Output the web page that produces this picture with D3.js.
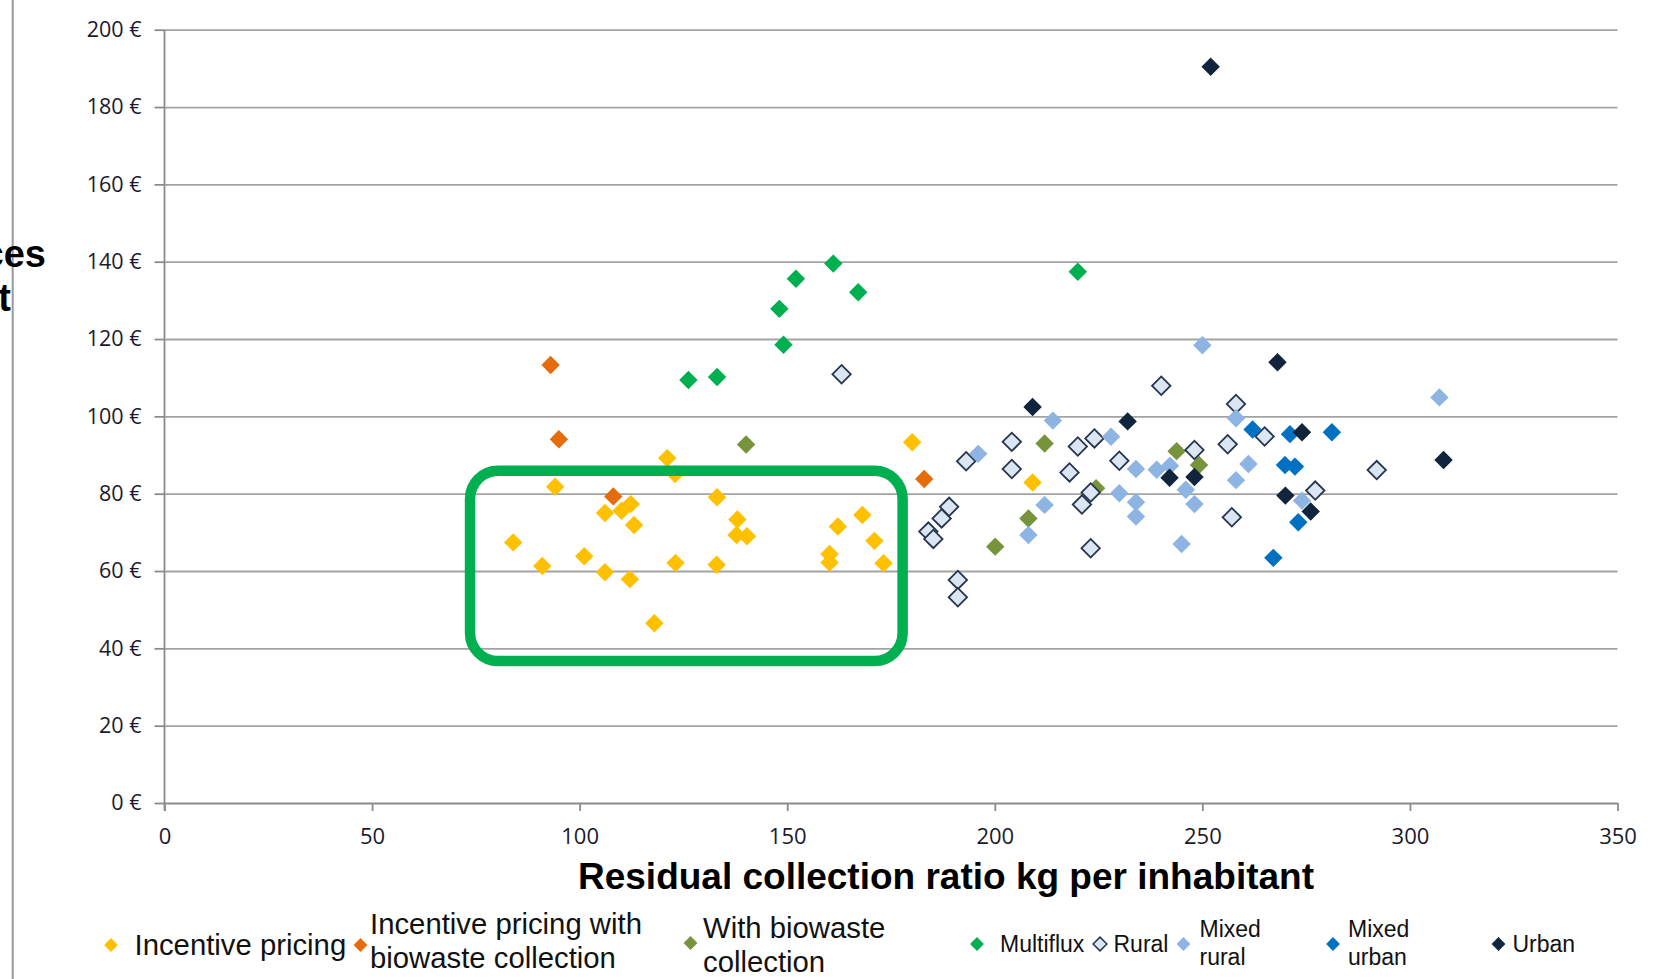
<!DOCTYPE html>
<html>
<head>
<meta charset="utf-8">
<script src="https://cdn.jsdelivr.net/npm/d3@7"></script>
<style>
  body { margin: 0; background: #fff; }
  svg { display: block; }
  .axis text { font-family: "Open Sans", sans-serif; fill: #1a1a2c; }
  .axis line, .axis path { stroke: #8c8c8c; stroke-width: 1.8; }
  .grid line { stroke: #a3a3a3; stroke-width: 1.8; }
  .grid path { display: none; }
  .axis-title { font-family: "Liberation Sans", Arial, sans-serif; font-weight: bold; fill: #000; }
  .legend text { font-family: "Liberation Sans", Arial, sans-serif; fill: #111; }
</style>
</head>
<body>
<svg id="chart"></svg>
<script>
// ---- data (kg per inhabitant, € per inhabitant) ----
const seriesNames = ['Incentive pricing', 'Incentive pricing with biowaste collection',
  'With biowaste collection', 'Multiflux', 'Rural', 'Mixed rural', 'Mixed urban', 'Urban'];

const incentivePricing = [[84, 67.4], [91, 61.3], [94.1, 81.8], [101.1, 63.8], [106.1, 75], [106.1, 59.7],
  [110.1, 75.6], [112.3, 77.3], [113.1, 71.9], [112.1, 57.9], [118, 46.5], [121.1, 89.2], [123, 85.1],
  [123.1, 62.1], [133.1, 79.1], [133, 61.6], [138, 73.3], [137.8, 69.3], [140.3, 69], [160.2, 64.4],
  [160.2, 62.2], [162.2, 71.5], [168.1, 74.5], [171, 67.8], [173.2, 62], [180.1, 93.3], [209.1, 82.9]];
const incentiveBiowaste = [[93, 113.3], [95, 94.1], [108.1, 79.3], [183, 83.8]];
const withBiowaste = [[140.1, 92.7], [200.1, 66.3], [208.1, 73.6], [212, 93], [224.4, 81.4], [243.8, 91], [249.2, 87.4]];
const multiflux = [[126.2, 109.4], [133.1, 110.2], [148.1, 127.8], [149.1, 118.5], [152.1, 135.6],
  [161.1, 139.5], [167.1, 132.1], [220, 137.4]];
const rural = [[163.1, 110.9], [184, 70.2], [185.2, 68.3], [187.2, 73.6], [189, 76.6], [191.1, 57.7],
  [191.1, 53.2], [193.1, 88.4], [204.1, 93.4], [204.1, 86.4], [218, 85.5], [220, 92.2], [221, 77.2],
  [223.1, 80.3], [223.1, 65.9], [224, 94.3], [230, 88.5], [240.1, 107.9], [248.1, 91.3], [256.1, 92.8],
  [257.1, 73.9], [258.1, 103.2], [265, 94.8], [277.2, 80.8], [292, 86.1]];
const mixedRural = [[196, 90.3], [208.1, 69.3], [212, 77.1], [214, 98.9], [228, 94.7], [230, 80.1],
  [234, 86.4], [234, 77.8], [234, 74.1], [239, 86.2], [242.2, 87.2], [245, 67], [246, 81], [248.1, 77.3],
  [250, 118.4], [258.1, 99.5], [258.1, 83.5], [261.1, 87.7], [274, 78.2], [307.1, 104.9]];
const mixedUrban = [[262.1, 96.6], [267.1, 63.4], [269.9, 87.4], [271.1, 95.4], [272.3, 87], [273.1, 72.6], [281.2, 95.9]];
const urban = [[209.1, 102.4], [232, 98.7], [242.1, 84.1], [248.1, 84.3], [252, 190.4], [268.1, 114],
  [270, 79.5], [274, 95.9], [276.1, 75.4], [308.1, 88.7]];

const xTicks = [0, 50, 100, 150, 200, 250, 300, 350];
const yTicks = [0, 20, 40, 60, 80, 100, 120, 140, 160, 180, 200];

// highlighted group (data units: kg range, € range)
const highlightKg = [73.6, 177.8];
const highlightEur = [36.7, 85.9];

const legendLines = [['Incentive pricing'], ['Incentive pricing with', 'biowaste collection'],
  ['With biowaste', 'collection'], ['Multiflux'], ['Rural'], ['Mixed', 'rural'], ['Mixed', 'urban'], ['Urban']];

class ScatterChart {
  constructor(_config, _series) {
    this.config = {
      parentElement: _config.parentElement,
      containerWidth: 1663,
      containerHeight: 979,
      margin: {top: 29.7, right: 45.5, bottom: 176, left: 164.5}
    };
    this.series = _series;
    this.initVis();
  }

  initVis() {
    let vis = this;
    vis.width = vis.config.containerWidth - vis.config.margin.left - vis.config.margin.right;
    vis.height = vis.config.containerHeight - vis.config.margin.top - vis.config.margin.bottom;

    vis.xScale = d3.scaleLinear().domain([0, 350]).range([0, vis.width]);
    vis.yScale = d3.scaleLinear().domain([0, 200]).range([vis.height, 0]);

    vis.colors = d3.scaleOrdinal()
        .domain(seriesNames)
        .range(['#ffc000', '#e46c0a', '#77933c', '#00b050', '#dce6f2', '#8db4e2', '#0070c0', '#10243e']);

    vis.svg = d3.select(vis.config.parentElement)
        .attr('width', vis.config.containerWidth)
        .attr('height', vis.config.containerHeight);

    vis.svg.append('rect')
        .attr('width', vis.config.containerWidth)
        .attr('height', vis.config.containerHeight)
        .attr('fill', '#fff');

    // stray frame line on the left edge
    vis.svg.append('line')
        .attr('x1', 12.7).attr('x2', 12.7)
        .attr('y1', 0).attr('y2', vis.config.containerHeight)
        .attr('stroke', '#9a9a9a').attr('stroke-width', 2);

    vis.chart = vis.svg.append('g')
        .attr('transform', `translate(${vis.config.margin.left},${vis.config.margin.top})`);

    vis.gridG = vis.chart.append('g').attr('class', 'grid');
    vis.yAxisG = vis.chart.append('g').attr('class', 'axis y-axis');
    vis.xAxisG = vis.chart.append('g')
        .attr('class', 'axis x-axis')
        .attr('transform', `translate(0,${vis.height})`);
    vis.pointsG = vis.chart.append('g');
    vis.boxG = vis.chart.append('g');

    // axis titles (y title is cut off by the left edge in the original)
    vis.svg.append('text')
        .attr('class', 'axis-title')
        .attr('x', 946)
        .attr('y', 889)
        .style('font-size', '37px')
        .attr('text-anchor', 'middle')
        .text('Residual collection ratio kg per inhabitant');

    vis.svg.append('text')
        .attr('class', 'axis-title')
        .attr('x', 46).attr('y', 267)
        .style('font-size', '38px')
        .attr('text-anchor', 'end')
        .text('Cost of services');

    vis.svg.append('text')
        .attr('class', 'axis-title')
        .attr('x', 11).attr('y', 311)
        .style('font-size', '38px')
        .attr('text-anchor', 'end')
        .text('per inhabitant');

    vis.legendG = vis.svg.append('g').attr('class', 'legend');
  }

  renderVis() {
    let vis = this;

    vis.gridG.call(d3.axisLeft(vis.yScale).tickValues(yTicks.filter(d => d > 0))
        .tickSize(-vis.width).tickFormat(''));

    vis.yAxisG.call(d3.axisLeft(vis.yScale)
        .tickValues(yTicks)
        .tickSize(10)
        .tickSizeOuter(0)
        .tickPadding(13)
        .tickFormat(d => `${d} €`));
    vis.yAxisG.selectAll('text').style('font-size', '21.5px');

    vis.xAxisG.call(d3.axisBottom(vis.xScale)
        .tickValues(xTicks)
        .tickSize(8)
        .tickSizeOuter(0)
        .tickPadding(17));
    vis.xAxisG.selectAll('text').style('font-size', '22px');
    // y axis line runs down to the x tick
    vis.yAxisG.select('.domain').attr('d', `M0,0V${vis.height + 8}`);

    const diamond = d3.symbol(d3.symbolSquare, 170);

    vis.series.forEach((s, i) => {
      const isRural = s.name === 'Rural';
      vis.pointsG.selectAll(`.pt-${i}`)
        .data(s.values)
        .join('path')
          .attr('class', `pt-${i}`)
          .attr('d', diamond)
          .attr('transform', d => `translate(${vis.xScale(d[0])},${vis.yScale(d[1])}) rotate(45)`)
          .attr('fill', vis.colors(s.name))
          .attr('stroke', isRural ? '#263650' : 'none')
          .attr('stroke-width', isRural ? 1.8 : 0);
    });

    // highlighted rounded box
    vis.boxG.append('rect')
        .attr('x', vis.xScale(highlightKg[0]))
        .attr('y', vis.yScale(highlightEur[1]))
        .attr('width', vis.xScale(highlightKg[1]) - vis.xScale(highlightKg[0]))
        .attr('height', vis.yScale(highlightEur[0]) - vis.yScale(highlightEur[1]))
        .attr('rx', 28).attr('ry', 28)
        .attr('fill', 'none')
        .attr('stroke', '#00b050')
        .attr('stroke-width', 10.5);

    // legend
    const legendPos = [
      {mx: 111, tx: 134.5, my: 945, fs: 29.3, ys: [955]},
      {mx: 360.5, tx: 370, my: 945, fs: 29.3, ys: [934, 968]},
      {mx: 690.5, tx: 703, my: 943, fs: 29.3, ys: [938, 972]},
      {mx: 977, tx: 1000, my: 944, fs: 23, ys: [952]},
      {mx: 1100, tx: 1113.5, my: 944, fs: 23, ys: [952]},
      {mx: 1183.5, tx: 1199.5, my: 944, fs: 23, ys: [937, 965]},
      {mx: 1333, tx: 1348, my: 944, fs: 23, ys: [937, 965]},
      {mx: 1498.5, tx: 1512.5, my: 944, fs: 23, ys: [952]}
    ];
    const legendSymbol = d3.symbol(d3.symbolSquare, 95);

    seriesNames.forEach((name, i) => {
      const p = legendPos[i];
      const isRural = name === 'Rural';
      vis.legendG.append('path')
          .attr('d', legendSymbol)
          .attr('transform', `translate(${p.mx},${p.my}) rotate(45)`)
          .attr('fill', vis.colors(name))
          .attr('stroke', isRural ? '#263650' : 'none')
          .attr('stroke-width', isRural ? 1.5 : 0);
      legendLines[i].forEach((line, j) => {
        vis.legendG.append('text')
            .attr('x', p.tx)
            .attr('y', p.ys[j])
            .style('font-size', `${p.fs}px`)
            .text(line);
      });
    });
  }
}

const series = [incentivePricing, incentiveBiowaste, withBiowaste, multiflux, rural, mixedRural, mixedUrban, urban]
    .map((values, i) => ({name: seriesNames[i], values}));

const chart = new ScatterChart({parentElement: '#chart'}, series);
chart.renderVis();
</script>
</body>
</html>
